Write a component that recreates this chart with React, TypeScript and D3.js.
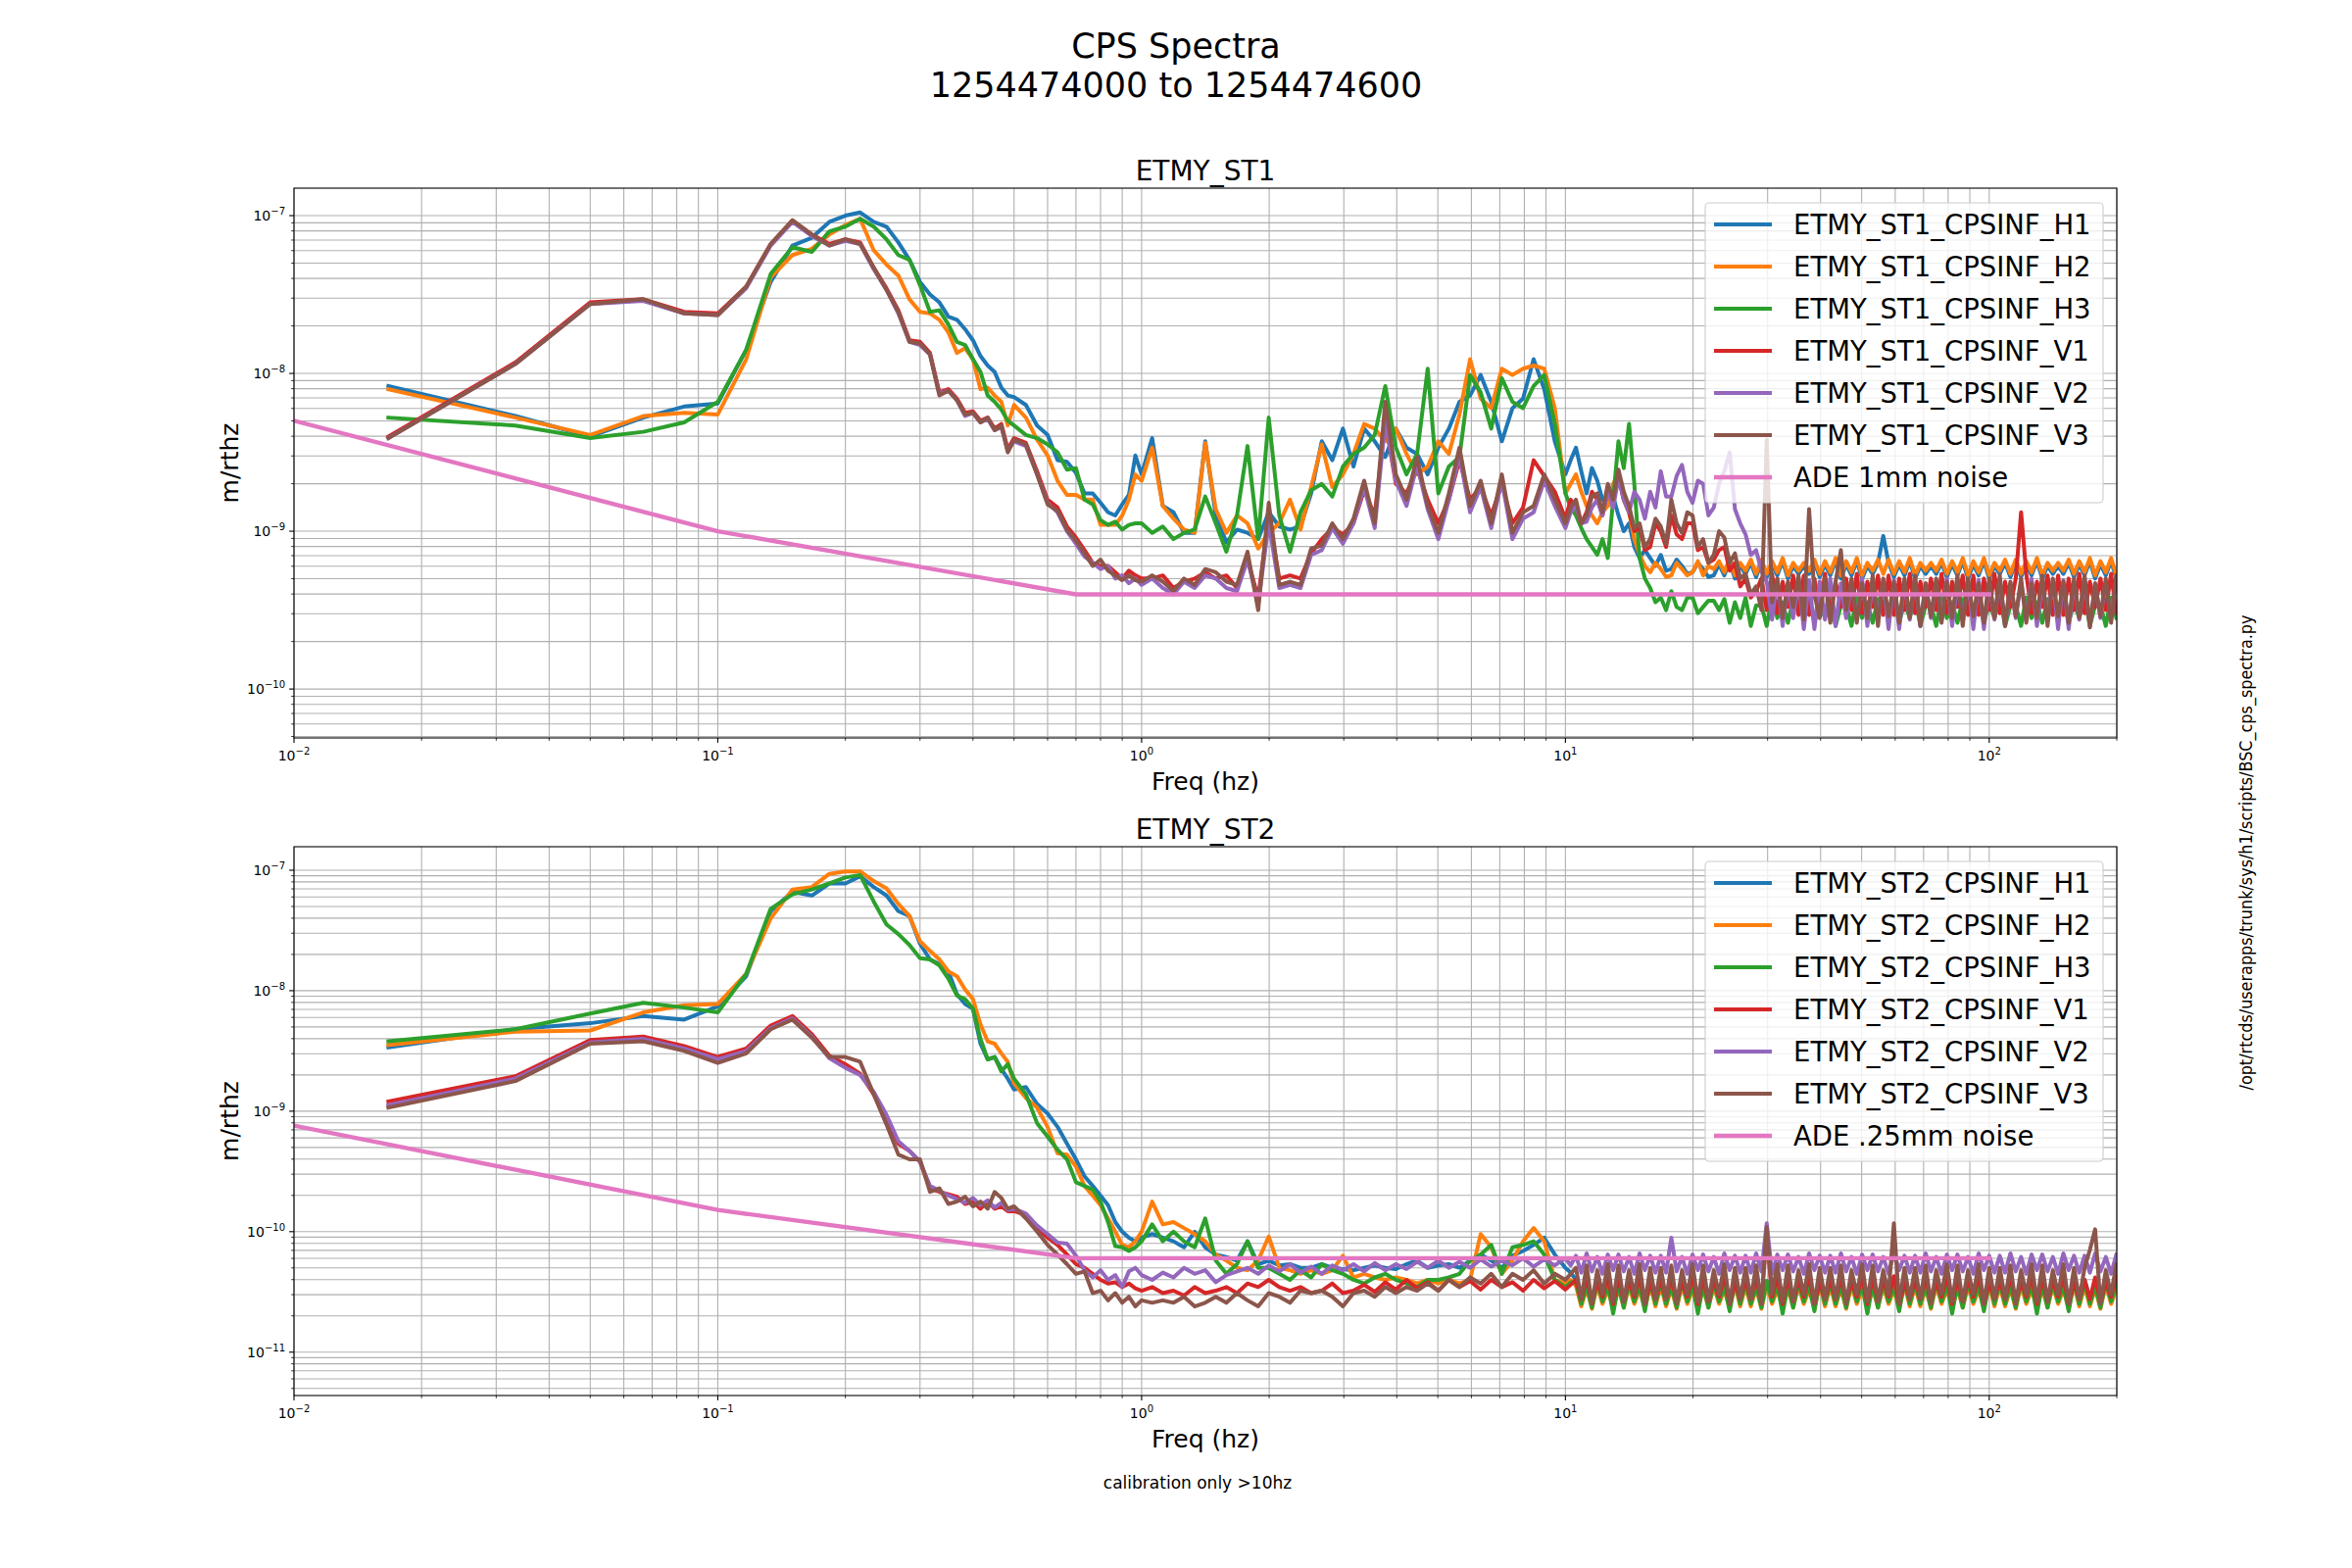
import React from 'react';
import * as d3 from 'd3';

// frequency grid (Hz): linear bins below 1 Hz, 40/decade to 10 Hz, 80/decade above
const lowFreqs = [
  0.0167, 0.0333, 0.05, 0.0667, 0.0833, 0.1, 0.1167, 0.1333, 0.15, 0.1667,
  0.1833, 0.2, 0.2167, 0.2333, 0.25, 0.2667, 0.2833, 0.3, 0.3167, 0.3333,
  0.35, 0.3667, 0.3833, 0.4, 0.4167, 0.4333, 0.45, 0.4667, 0.4833, 0.5,
  0.5333, 0.5667, 0.6, 0.6333, 0.6667, 0.7, 0.7333, 0.7667, 0.8, 0.8333, 0.8667, 0.9, 0.9333, 0.9667,
];
const midFreqs = [
  1.0, 1.059, 1.122, 1.189, 1.259, 1.334, 1.413, 1.496, 1.585, 1.679,
  1.778, 1.884, 1.995, 2.113, 2.239, 2.371, 2.512, 2.661, 2.818, 2.985,
  3.162, 3.35, 3.548, 3.758, 3.981, 4.217, 4.467, 4.732, 5.012, 5.309,
  5.623, 5.957, 6.31, 6.683, 7.079, 7.499, 7.943, 8.414, 8.913, 9.441,
];
const hfFreqs = [
  10.0, 10.29, 10.59, 10.9, 11.22, 11.55, 11.89, 12.23, 12.59, 12.96,
  13.34, 13.73, 14.13, 14.54, 14.96, 15.4, 15.85, 16.31, 16.79, 17.28,
  17.78, 18.3, 18.84, 19.39, 19.95, 20.54, 21.13, 21.75, 22.39, 23.04,
  23.71, 24.41, 25.12, 25.85, 26.61, 27.38, 28.18, 29.01, 29.85, 30.73,
  31.62, 32.55, 33.5, 34.47, 35.48, 36.52, 37.58, 38.68, 39.81, 40.97,
  42.17, 43.4, 44.67, 45.97, 47.32, 48.7, 50.12, 51.58, 53.09, 54.64,
  56.23, 57.88, 59.57, 61.31, 63.1, 64.94, 66.83, 68.79, 70.79, 72.86,
  74.99, 77.18, 79.43, 81.75, 84.14, 86.6, 89.13, 91.73, 94.41, 97.16,
  100.0, 102.9, 105.9, 109.0, 112.2, 115.5, 118.9, 122.3, 125.9, 129.6,
  133.4, 137.3, 141.3, 145.4, 149.6, 154.0, 158.5, 163.1, 167.9, 172.8,
  177.8, 183.0, 188.4, 193.9, 199.5,
];
const freqs = lowFreqs.concat(midFreqs, hfFreqs);

// spectra, stored as log10(m/rthz): low bins, 1-10 Hz, 10-200 Hz
const st1H1 = [
  -8.08, -8.27, -8.40, -8.28, -8.21, -8.19, -7.85, -7.42, -7.19, -7.14,
  -7.04, -7.00, -6.98, -7.04, -7.07, -7.17, -7.28, -7.42, -7.50, -7.55,
  -7.64, -7.66, -7.72, -7.79, -7.89, -7.95, -7.99, -8.09, -8.14, -8.15,
  -8.20, -8.33, -8.39, -8.55, -8.56, -8.63, -8.76, -8.76, -8.82, -8.88, -8.90, -8.83, -8.77, -8.52,
  -8.64, -8.41, -8.84, -8.88, -9.01, -9.01, -8.43, -8.90, -9.07, -8.99,
  -9.01, -9.05, -8.88, -8.97, -8.99, -8.97, -8.76, -8.43, -8.55, -8.35,
  -8.59, -8.35, -8.43, -8.53, -8.35, -8.47, -8.51, -8.64, -8.47, -8.35,
  -8.18, -8.14, -8.01, -8.18, -8.43, -8.22, -8.16, -7.91, -8.10, -8.43,
  -8.64, -8.55, -8.47, -8.62, -8.76, -8.60, -8.68, -8.80, -8.84, -8.78,
  -8.90, -9.00, -8.95, -9.10, -9.17, -9.12, -9.17, -9.22, -9.15, -9.25,
  -9.24, -9.18, -9.22, -9.27, -9.26, -9.20, -9.24, -9.29, -9.28,
  -9.21, -9.28, -9.19, -9.30, -9.22, -9.27, -9.20, -9.29,
  -9.20, -9.29, -9.21, -9.28, -9.19, -9.30, -9.22, -9.27,
  -9.22, -9.27, -9.20, -9.29, -9.21, -9.28, -9.19, -9.30,
  -9.21, -9.28, -9.19, -9.30, -9.22, -9.27, -9.20, -9.03,
  -9.20, -9.29, -9.21, -9.28, -9.19, -9.30, -9.22, -9.27,
  -9.22, -9.27, -9.20, -9.29, -9.21, -9.28, -9.19, -9.30,
  -9.21, -9.28, -9.19, -9.30, -9.22, -9.27, -9.20, -9.29,
  -9.20, -9.29, -9.21, -9.28, -9.19, -9.30, -9.22, -9.27,
  -9.22, -9.27, -9.20, -9.29, -9.21, -9.28, -9.19, -9.30,
  -9.21, -9.28, -9.19, -9.30,
];
const st1H2 = [
  -8.10, -8.28, -8.39, -8.27, -8.25, -8.26, -7.91, -7.39, -7.25, -7.21,
  -7.12, -7.06, -7.02, -7.22, -7.31, -7.38, -7.53, -7.61, -7.62, -7.66,
  -7.74, -7.87, -7.84, -7.91, -8.10, -8.09, -8.14, -8.18, -8.33, -8.20,
  -8.28, -8.42, -8.52, -8.68, -8.77, -8.77, -8.80, -8.80, -8.96, -8.96, -8.96, -8.90, -8.80, -8.64,
  -8.68, -8.47, -8.84, -8.92, -8.99, -9.01, -8.44, -8.86, -9.01, -8.90,
  -8.95, -9.11, -9.01, -8.95, -8.80, -8.99, -8.72, -8.45, -8.72, -8.64,
  -8.51, -8.32, -8.35, -8.43, -8.35, -8.51, -8.64, -8.59, -8.43, -8.51,
  -8.26, -7.91, -8.16, -8.22, -7.97, -8.01, -7.97, -7.95, -7.97, -8.22,
  -8.76, -8.70, -8.64, -8.75, -8.84, -8.90, -8.95, -8.88, -8.84, -8.70,
  -8.64, -8.80, -8.88, -9.05, -9.15, -9.22, -9.26, -9.20, -9.24, -9.29,
  -9.28, -9.20, -9.24, -9.28, -9.26, -9.19, -9.28, -9.22, -9.24,
  -9.19, -9.26, -9.17, -9.28, -9.20, -9.25, -9.18, -9.27,
  -9.18, -9.27, -9.19, -9.26, -9.17, -9.28, -9.20, -9.25,
  -9.20, -9.25, -9.18, -9.27, -9.19, -9.26, -9.17, -9.28,
  -9.19, -9.26, -9.17, -9.28, -9.20, -9.25, -9.18, -9.27,
  -9.18, -9.27, -9.19, -9.26, -9.17, -9.28, -9.20, -9.25,
  -9.20, -9.25, -9.18, -9.27, -9.19, -9.26, -9.17, -9.28,
  -9.19, -9.26, -9.17, -9.28, -9.20, -9.25, -9.18, -9.27,
  -9.18, -9.27, -9.19, -9.26, -9.17, -9.28, -9.20, -9.25,
  -9.20, -9.25, -9.18, -9.27, -9.19, -9.26, -9.17, -9.28,
  -9.19, -9.26, -9.17, -9.28,
];
const st1H3 = [
  -8.28, -8.33, -8.41, -8.37, -8.31, -8.18, -7.85, -7.37, -7.20, -7.23,
  -7.10, -7.07, -7.02, -7.07, -7.15, -7.25, -7.28, -7.44, -7.61, -7.60,
  -7.69, -7.80, -7.82, -7.91, -7.99, -8.14, -8.18, -8.23, -8.30, -8.33,
  -8.39, -8.41, -8.45, -8.50, -8.61, -8.60, -8.80, -8.83, -8.93, -8.96, -8.94, -8.99, -8.96, -8.95,
  -8.95, -9.01, -8.97, -9.05, -9.01, -8.99, -8.78, -8.95, -9.13, -8.90,
  -8.46, -9.05, -8.28, -8.90, -9.13, -8.88, -8.74, -8.70, -8.78, -8.59,
  -8.51, -8.47, -8.39, -8.08, -8.47, -8.64, -8.51, -7.97, -8.76, -8.59,
  -8.53, -8.01, -8.12, -8.35, -8.03, -8.18, -8.22, -8.08, -8.01, -8.32,
  -8.76, -8.85, -8.90, -8.98, -9.05, -9.10, -9.15, -9.05, -9.17, -8.80,
  -8.43, -8.60, -8.32, -8.70, -9.17, -9.30, -9.36, -9.45, -9.42, -9.50,
  -9.38, -9.48, -9.50, -9.42, -9.42, -9.52, -9.48, -9.44, -9.44,
  -9.50, -9.43, -9.58, -9.45, -9.55, -9.42, -9.60, -9.47,
  -9.47, -9.60, -9.42, -9.55, -9.45, -9.58, -9.43, -9.50,
  -9.50, -9.43, -9.58, -9.45, -9.55, -9.42, -9.60, -9.47,
  -9.47, -9.60, -9.42, -9.55, -9.45, -9.58, -9.43, -9.50,
  -9.50, -9.43, -9.58, -9.45, -9.55, -9.42, -9.60, -9.47,
  -9.47, -9.60, -9.42, -9.55, -9.45, -9.58, -9.43, -9.50,
  -9.50, -9.43, -9.58, -9.45, -9.55, -9.42, -9.60, -9.47,
  -9.47, -9.60, -9.42, -9.55, -9.45, -9.58, -9.43, -9.50,
  -9.50, -9.43, -9.58, -9.45, -9.55, -9.42, -9.60, -9.47,
  -9.47, -9.60, -9.42, -9.55,
];
const st1V1 = [
  -8.40, -7.93, -7.55, -7.53, -7.61, -7.62, -7.45, -7.18, -7.03, -7.12,
  -7.18, -7.15, -7.17, -7.33, -7.46, -7.60, -7.79, -7.80, -7.87, -8.12,
  -8.10, -8.16, -8.25, -8.24, -8.30, -8.28, -8.35, -8.32, -8.48, -8.41,
  -8.44, -8.62, -8.80, -8.85, -8.97, -9.04, -9.12, -9.20, -9.22, -9.22, -9.26, -9.30, -9.25, -9.28,
  -9.30, -9.30, -9.28, -9.36, -9.32, -9.30, -9.26, -9.30, -9.28, -9.36,
  -9.18, -9.42, -8.90, -9.30, -9.28, -9.30, -9.14, -9.05, -8.98, -9.02,
  -8.95, -8.74, -8.90, -8.30, -8.70, -8.76, -8.60, -8.80, -8.95, -8.80,
  -8.55, -8.80, -8.72, -8.90, -8.70, -8.95, -8.85, -8.55, -8.65, -8.75,
  -8.92, -8.80, -8.85, -8.95, -8.88, -8.75, -8.80, -8.90, -8.74, -8.82,
  -8.66, -8.80, -8.88, -9.00, -8.98, -9.12, -9.10, -8.95, -9.00, -9.10,
  -8.90, -9.02, -9.05, -8.95, -8.95, -9.12, -9.10, -9.20, -9.18, -9.12,
  -9.10, -9.25, -9.20, -9.35, -9.30, -9.42, -9.38,
  -9.30, -9.50, -9.27, -9.52, -9.32, -9.48, -9.28, -9.53,
  -9.28, -9.53, -9.30, -9.50, -9.27, -9.52, -9.32, -9.48,
  -9.30, -9.50, -9.27, -9.52, -9.32, -9.48, -9.28, -9.53,
  -9.28, -9.53, -9.30, -9.50, -9.27, -9.52, -9.32, -9.48,
  -9.30, -9.50, -9.27, -9.52, -9.32, -9.48, -9.28, -9.53,
  -9.28, -9.53, -9.30, -9.50, -9.27, -9.52, -9.32, -9.48,
  -9.30, -8.88, -9.27, -9.52, -9.32, -9.48, -9.28, -9.53,
  -9.28, -9.53, -9.30, -9.50, -9.27, -9.52, -9.32, -9.48,
  -9.30, -9.50, -9.27, -9.52,
];
const st1V2 = [
  -8.41, -7.94, -7.56, -7.54, -7.62, -7.63, -7.46, -7.19, -7.04, -7.13,
  -7.19, -7.16, -7.18, -7.34, -7.47, -7.62, -7.80, -7.82, -7.88, -8.13,
  -8.11, -8.17, -8.27, -8.25, -8.31, -8.29, -8.36, -8.34, -8.49, -8.43,
  -8.46, -8.64, -8.82, -8.88, -9.00, -9.08, -9.16, -9.20, -9.24, -9.22, -9.30, -9.28, -9.33, -9.30,
  -9.34, -9.30, -9.36, -9.40, -9.32, -9.36, -9.28, -9.30, -9.36, -9.38,
  -9.18, -9.46, -8.95, -9.36, -9.34, -9.36, -9.15, -9.12, -8.98, -9.08,
  -8.95, -8.72, -8.98, -8.30, -8.68, -8.84, -8.58, -8.86, -9.05, -8.80,
  -8.52, -8.88, -8.72, -8.98, -8.68, -9.05, -8.92, -8.88, -8.68, -8.84,
  -8.98, -8.88, -8.84, -8.95, -8.94, -8.85, -8.80, -8.90, -8.74, -8.85,
  -8.66, -8.80, -8.88, -8.75, -8.80, -8.92, -8.75, -8.85, -8.62, -8.78,
  -8.78, -8.65, -8.58, -8.75, -8.82, -8.68, -8.70, -8.90, -8.85, -8.70,
  -8.62, -8.50, -8.86, -8.95, -9.02, -9.15, -9.12, -9.25,
  -9.32, -9.56, -9.30, -9.60, -9.33, -9.55, -9.31, -9.62,
  -9.31, -9.62, -9.32, -9.56, -9.30, -9.60, -9.33, -9.55,
  -9.32, -9.56, -9.30, -9.60, -9.33, -9.55, -9.31, -9.62,
  -9.31, -9.62, -9.32, -9.56, -9.30, -9.60, -9.33, -9.55,
  -9.32, -9.56, -9.30, -9.60, -9.33, -9.55, -9.31, -9.62,
  -9.31, -9.62, -9.32, -9.56, -9.30, -9.60, -9.33, -9.55,
  -9.32, -9.56, -9.30, -9.60, -9.33, -9.55, -9.31, -9.62,
  -9.31, -9.62, -9.32, -9.56, -9.30, -9.60, -9.33, -9.55,
  -9.32, -9.56, -9.30,
];
const st1V3 = [
  -8.41, -7.94, -7.56, -7.53, -7.62, -7.63, -7.45, -7.18, -7.03, -7.12,
  -7.19, -7.15, -7.18, -7.33, -7.47, -7.61, -7.80, -7.81, -7.88, -8.14,
  -8.11, -8.17, -8.26, -8.25, -8.31, -8.28, -8.36, -8.33, -8.50, -8.42,
  -8.45, -8.64, -8.83, -8.87, -8.99, -9.06, -9.14, -9.22, -9.18, -9.25, -9.28, -9.31, -9.28, -9.31,
  -9.32, -9.28, -9.32, -9.38, -9.30, -9.34, -9.24, -9.26, -9.32, -9.34,
  -9.13, -9.50, -8.82, -9.34, -9.32, -9.34, -9.11, -9.09, -8.95, -9.05,
  -8.92, -8.68, -8.95, -8.18, -8.64, -8.80, -8.53, -8.84, -9.01, -8.76,
  -8.47, -8.84, -8.68, -8.95, -8.64, -9.01, -8.88, -8.84, -8.64, -8.80,
  -8.95, -8.85, -8.80, -8.95, -8.90, -8.78, -8.76, -8.88, -8.70, -8.80,
  -8.61, -8.75, -8.84, -8.98, -8.95, -9.10, -9.05, -8.92, -8.97, -9.08,
  -8.80, -8.95, -9.01, -8.88, -8.90, -9.10, -9.05, -9.20, -9.15, -9.00,
  -9.04, -9.20, -9.14, -9.30, -9.27, -9.40, -9.35, -9.50, -8.42,
  -9.45, -9.30, -9.55, -9.32, -9.48, -9.28, -9.56, -8.86,
  -9.40, -9.55, -9.30, -9.58, -9.32, -9.12, -9.50, -9.30,
  -9.58, -9.33, -9.55, -9.28, -9.60, -9.30, -9.54, -9.32,
  -9.58, -9.30, -9.55, -9.28, -9.60, -9.33, -9.54, -9.30,
  -9.58, -9.32, -9.55, -9.28, -9.60, -9.30, -9.54, -9.33,
  -9.58, -9.30, -9.55, -9.28, -9.60, -9.32, -9.54, -9.30,
  -9.58, -9.33, -9.55, -9.28, -9.60, -9.30, -9.54, -9.32,
  -9.58, -9.30, -9.55, -9.28, -9.61, -9.33, -9.54, -9.30,
  -9.58, -9.28,
];

const st2H1 = [
  -8.47, -8.32, -8.27, -8.21, -8.24, -8.13, -7.88, -7.34, -7.18, -7.21,
  -7.11, -7.11, -7.05, -7.14, -7.21, -7.34, -7.38, -7.61, -7.74, -7.78,
  -7.84, -8.03, -8.11, -8.15, -8.44, -8.57, -8.55, -8.65, -8.73, -8.82,
  -8.80, -8.94, -9.02, -9.13, -9.27, -9.40, -9.54, -9.62, -9.70, -9.78, -9.92, -10.00, -10.05, -10.08,
  -10.05, -10.02, -10.05, -10.08, -10.13, -10.00, -10.13, -10.19, -10.21, -10.24,
  -10.08, -10.27, -10.24, -10.28, -10.27, -10.30, -10.30, -10.27, -10.30, -10.31,
  -10.32, -10.30, -10.28, -10.30, -10.31, -10.27, -10.24, -10.30, -10.28, -10.27,
  -10.30, -10.24, -10.19, -10.24, -10.30, -10.20, -10.16, -10.11, -10.05, -10.19,
  -10.30, -10.34,
  -10.40, -10.55, -10.42, -10.57, -10.41, -10.58, -10.43, -10.56,
  -10.42, -10.57, -10.40, -10.56, -10.43, -10.55, -10.41, -10.58,
  -10.40, -10.55, -10.42, -10.57, -10.41, -10.58, -10.43, -10.56,
  -10.42, -10.57, -10.40, -10.56, -10.43, -10.55, -10.41, -10.58,
  -10.40, -10.55, -10.42, -10.57, -10.41, -10.58, -10.43, -10.56,
  -10.42, -10.57, -10.40, -10.56, -10.43, -10.55, -10.41, -10.58,
  -10.40, -10.55, -10.42, -10.57, -10.41, -10.58, -10.43, -10.56,
  -10.42, -10.57, -10.40, -10.56, -10.43, -10.55, -10.41, -10.58,
  -10.40, -10.55, -10.42, -10.57, -10.41, -10.58, -10.43, -10.56,
  -10.42, -10.57, -10.40, -10.56, -10.43, -10.55, -10.41, -10.58,
  -10.40, -10.55, -10.42, -10.57, -10.41, -10.58, -10.43, -10.56,
  -10.42, -10.57, -10.40, -10.56, -10.43, -10.55, -10.41, -10.58,
  -10.40, -10.55, -10.42, -10.57, -10.41, -10.58, -10.43,
];
const st2H2 = [
  -8.45, -8.34, -8.33, -8.18, -8.12, -8.11, -7.86, -7.40, -7.16, -7.14,
  -7.03, -7.01, -7.01, -7.09, -7.15, -7.28, -7.38, -7.59, -7.67, -7.74,
  -7.84, -7.88, -7.99, -8.07, -8.28, -8.42, -8.44, -8.52, -8.59, -8.77,
  -8.89, -8.97, -9.13, -9.35, -9.36, -9.46, -9.62, -9.70, -9.78, -9.89, -10.00, -10.11, -10.13, -10.08,
  -10.00, -9.75, -9.94, -9.92, -9.97, -10.02, -10.08, -10.19, -10.24, -10.30,
  -10.32, -10.24, -10.04, -10.30, -10.32, -10.35, -10.32, -10.35, -10.32, -10.20,
  -10.38, -10.35, -10.38, -10.40, -10.38, -10.40, -10.43, -10.40, -10.43, -10.40,
  -10.43, -10.40, -10.02, -10.13, -10.35, -10.24, -10.08, -9.97, -10.08, -10.40,
  -10.43, -10.40,
  -10.45, -10.62, -10.47, -10.64, -10.44, -10.60, -10.48, -10.63,
  -10.47, -10.63, -10.45, -10.60, -10.48, -10.64, -10.44, -10.62,
  -10.45, -10.62, -10.47, -10.64, -10.44, -10.60, -10.48, -10.63,
  -10.47, -10.63, -10.45, -10.60, -10.48, -10.64, -10.44, -10.62,
  -10.45, -10.62, -10.47, -10.64, -10.44, -10.60, -10.48, -10.63,
  -10.47, -10.63, -10.45, -10.60, -10.48, -10.64, -10.44, -10.62,
  -10.45, -10.62, -10.47, -10.64, -10.44, -10.60, -10.48, -10.63,
  -10.47, -10.63, -10.45, -10.60, -10.48, -10.64, -10.44, -10.62,
  -10.45, -10.62, -10.47, -10.64, -10.44, -10.60, -10.48, -10.63,
  -10.47, -10.63, -10.45, -10.60, -10.48, -10.64, -10.44, -10.62,
  -10.45, -10.62, -10.47, -10.64, -10.44, -10.60, -10.48, -10.63,
  -10.47, -10.63, -10.45, -10.60, -10.48, -10.64, -10.44, -10.62,
  -10.45, -10.62, -10.47, -10.64, -10.44, -10.60, -10.48,
];
const st2H3 = [
  -8.42, -8.32, -8.19, -8.10, -8.14, -8.18, -7.86, -7.32, -7.20, -7.16,
  -7.11, -7.06, -7.04, -7.26, -7.45, -7.53, -7.62, -7.73, -7.74, -7.79,
  -7.90, -8.04, -8.07, -8.15, -8.40, -8.57, -8.55, -8.67, -8.61, -8.73,
  -8.86, -9.10, -9.21, -9.32, -9.40, -9.59, -9.62, -9.65, -9.75, -9.92, -10.12, -10.13, -10.16, -10.13,
  -10.08, -9.94, -10.08, -10.00, -10.08, -10.13, -9.89, -10.24, -10.35, -10.27,
  -10.08, -10.30, -10.30, -10.35, -10.40, -10.32, -10.38, -10.27, -10.32, -10.35,
  -10.40, -10.43, -10.38, -10.35, -10.40, -10.43, -10.46, -10.40, -10.40, -10.38,
  -10.35, -10.24, -10.19, -10.11, -10.35, -10.13, -10.11, -10.08, -10.19, -10.40,
  -10.46, -10.42,
  -10.42, -10.60, -10.45, -10.63, -10.41, -10.58, -10.44, -10.68,
  -10.44, -10.63, -10.42, -10.58, -10.45, -10.66, -10.41, -10.60,
  -10.42, -10.60, -10.45, -10.63, -10.41, -10.58, -10.44, -10.68,
  -10.44, -10.63, -10.42, -10.58, -10.45, -10.66, -10.41, -10.60,
  -10.42, -10.60, -10.45, -10.63, -10.41, -10.58, -10.44, -10.68,
  -10.44, -10.63, -10.42, -10.58, -10.45, -10.66, -10.41, -10.60,
  -10.42, -10.60, -10.45, -10.63, -10.41, -10.58, -10.44, -10.68,
  -10.44, -10.63, -10.42, -10.58, -10.45, -10.66, -10.41, -10.60,
  -10.42, -10.60, -10.45, -10.63, -10.41, -10.58, -10.44, -10.68,
  -10.44, -10.63, -10.42, -10.58, -10.45, -10.66, -10.41, -10.60,
  -10.42, -10.60, -10.45, -10.63, -10.41, -10.58, -10.44, -10.68,
  -10.44, -10.63, -10.42, -10.58, -10.45, -10.66, -10.41, -10.60,
  -10.42, -10.60, -10.45, -10.63, -10.41, -10.58, -10.44,
];
const st2V1 = [
  -8.92, -8.71, -8.41, -8.38, -8.46, -8.55, -8.48, -8.29, -8.21, -8.36,
  -8.54, -8.61, -8.69, -8.86, -9.06, -9.27, -9.33, -9.42, -9.64, -9.67,
  -9.69, -9.71, -9.77, -9.75, -9.81, -9.75, -9.81, -9.79, -9.83, -9.83,
  -9.86, -9.97, -10.05, -10.11, -10.19, -10.27, -10.30, -10.35, -10.40, -10.43, -10.42, -10.46, -10.43, -10.47,
  -10.49, -10.46, -10.51, -10.49, -10.53, -10.46, -10.51, -10.49, -10.46, -10.51,
  -10.43, -10.46, -10.40, -10.46, -10.49, -10.46, -10.51, -10.49, -10.43, -10.51,
  -10.49, -10.44, -10.50, -10.42, -10.48, -10.40, -10.47, -10.42, -10.49, -10.40,
  -10.46, -10.41, -10.48, -10.40, -10.46, -10.42, -10.49, -10.40, -10.47, -10.41,
  -10.48, -10.44,
  -10.40, -10.56, -10.38, -10.58, -10.42, -10.54, -10.37, -10.60,
  -10.38, -10.58, -10.40, -10.54, -10.37, -10.60, -10.42, -10.56,
  -10.40, -10.56, -10.38, -10.58, -10.42, -10.54, -10.37, -10.60,
  -10.38, -10.58, -10.40, -10.54, -10.37, -10.60, -10.42, -10.56,
  -10.40, -10.56, -10.38, -10.58, -10.02, -10.54, -10.37, -10.60,
  -10.38, -10.58, -10.40, -10.54, -10.37, -10.60, -10.42, -10.56,
  -10.40, -10.56, -10.38, -10.58, -10.42, -10.54, -10.37, -10.60,
  -10.38, -10.58, -10.40, -10.54, -10.37, -10.60, -10.42, -10.56,
  -10.40, -10.56, -10.38, -10.58, -10.42, -10.54, -10.37, -10.60,
  -10.38, -10.58, -10.40, -10.54, -10.37, -10.60, -10.42, -10.56,
  -10.40, -10.56, -10.38, -10.58, -10.42, -10.54, -10.37, -10.60,
  -10.38, -10.58, -10.40, -10.54, -10.37, -10.60, -10.42, -10.56,
  -10.40, -10.56, -10.38, -10.58, -10.42, -10.54, -10.37,
];
const st2V2 = [
  -8.95, -8.73, -8.43, -8.40, -8.48, -8.57, -8.50, -8.31, -8.23, -8.38,
  -8.56, -8.64, -8.70, -8.84, -9.03, -9.25, -9.33, -9.42, -9.62, -9.66,
  -9.70, -9.73, -9.76, -9.72, -9.78, -9.74, -9.80, -9.76, -9.82, -9.81,
  -9.85, -9.95, -10.02, -10.09, -10.10, -10.20, -10.32, -10.38, -10.32, -10.40, -10.36, -10.46, -10.33, -10.30,
  -10.36, -10.40, -10.34, -10.38, -10.30, -10.35, -10.32, -10.42, -10.36, -10.33,
  -10.30, -10.35, -10.28, -10.33, -10.27, -10.34, -10.29, -10.35, -10.28, -10.32,
  -10.27, -10.33, -10.26, -10.32, -10.27, -10.31, -10.25, -10.30, -10.24, -10.30,
  -10.25, -10.30, -10.23, -10.29, -10.24, -10.28, -10.22, -10.29, -10.23, -10.28,
  -10.22, -10.28,
  -10.20, -10.34, -10.18, -10.33, -10.21, -10.35, -10.19, -10.32,
  -10.19, -10.33, -10.21, -10.35, -10.18, -10.32, -10.20, -10.34,
  -10.20, -10.34, -10.05, -10.33, -10.21, -10.35, -10.19, -10.32,
  -10.19, -10.33, -10.21, -10.35, -10.18, -10.32, -10.20, -10.34,
  -10.20, -10.34, -10.18, -10.33, -9.93, -10.35, -10.19, -10.32,
  -10.19, -10.33, -10.21, -10.35, -10.18, -10.32, -10.20, -10.34,
  -10.20, -10.34, -10.18, -10.33, -10.21, -10.35, -10.19, -10.32,
  -10.19, -10.33, -10.21, -10.35, -10.18, -10.32, -10.20, -10.34,
  -10.20, -10.34, -10.18, -10.33, -10.21, -10.35, -10.19, -10.32,
  -10.19, -10.33, -10.21, -10.35, -10.18, -10.32, -10.20, -10.34,
  -10.20, -10.34, -10.18, -10.33, -10.21, -10.35, -10.19, -10.32,
  -10.19, -10.33, -10.21, -10.35, -10.18, -10.32, -10.20, -10.34,
  -10.20, -10.34, -10.18, -10.33, -10.21, -10.35, -10.19,
];
const st2V3 = [
  -8.97, -8.75, -8.44, -8.42, -8.50, -8.60, -8.52, -8.32, -8.24, -8.39,
  -8.55, -8.55, -8.59, -8.86, -9.11, -9.36, -9.40, -9.40, -9.67, -9.64,
  -9.77, -9.75, -9.71, -9.79, -9.75, -9.81, -9.67, -9.72, -9.81, -9.79,
  -9.89, -10.00, -10.11, -10.19, -10.27, -10.35, -10.33, -10.51, -10.49, -10.57, -10.51, -10.59, -10.54, -10.62,
  -10.57, -10.59, -10.57, -10.59, -10.54, -10.62, -10.59, -10.54, -10.59, -10.51,
  -10.57, -10.62, -10.51, -10.54, -10.59, -10.49, -10.51, -10.49, -10.54, -10.62,
  -10.51, -10.49, -10.54, -10.46, -10.51, -10.46, -10.49, -10.43, -10.49, -10.40,
  -10.46, -10.38, -10.43, -10.35, -10.46, -10.35, -10.40, -10.32, -10.43, -10.35,
  -10.40, -10.35,
  -10.30, -10.56, -10.28, -10.60, -10.32, -10.52, -10.27, -10.58,
  -10.28, -10.58, -10.32, -10.52, -10.27, -10.60, -10.30, -10.56,
  -10.30, -10.56, -10.28, -10.60, -10.32, -10.52, -10.27, -10.58,
  -10.28, -10.58, -10.32, -10.52, -10.27, -10.60, -10.30, -10.56,
  -10.30, -10.56, -10.28, -10.60, -9.96, -10.52, -10.27, -10.58,
  -10.28, -10.58, -10.32, -10.52, -10.27, -10.60, -10.30, -10.56,
  -10.30, -10.56, -10.28, -10.60, -10.32, -10.52, -10.27, -10.58,
  -10.28, -10.58, -10.32, -10.52, -9.93, -10.60, -10.30, -10.56,
  -10.30, -10.56, -10.28, -10.60, -10.32, -10.52, -10.27, -10.58,
  -10.28, -10.58, -10.32, -10.52, -10.27, -10.60, -10.30, -10.56,
  -10.30, -10.56, -10.28, -10.60, -10.32, -10.52, -10.27, -10.58,
  -10.28, -10.58, -10.32, -10.52, -10.27, -10.60, -10.30, -10.56,
  -10.30, -10.15, -9.98, -10.60, -10.32, -10.52, -10.27,
];

// ADE sensor noise curves (log10)
const noiseFreqs = [0.01, 0.1, 0.7, 100];
const ade1mm = [-8.3, -9.0, -9.4, -9.4];
const ade025mm = [-9.12, -9.82, -10.22, -10.22];

const st1Names = ['ETMY_ST1_CPSINF_H1', 'ETMY_ST1_CPSINF_H2', 'ETMY_ST1_CPSINF_H3', 'ETMY_ST1_CPSINF_V1', 'ETMY_ST1_CPSINF_V2', 'ETMY_ST1_CPSINF_V3'];
const st2Names = ['ETMY_ST2_CPSINF_H1', 'ETMY_ST2_CPSINF_H2', 'ETMY_ST2_CPSINF_H3', 'ETMY_ST2_CPSINF_V1', 'ETMY_ST2_CPSINF_V2', 'ETMY_ST2_CPSINF_V3'];
const colors = ['#1f77b4', '#ff7f0e', '#2ca02c', '#d62728', '#9467bd', '#8c564b'];
const noiseColor = '#e377c2';

const FONT = "'DejaVu Sans', Verdana, sans-serif";
const AX_L = 300;
const AX_R = 2160;

const panels = [
  { title: 'ETMY_ST1', top: 192, bottom: 753, yLog: [-10.31, -6.826], series: [st1H1, st1H2, st1H3, st1V1, st1V2, st1V3], names: st1Names, noise: ade1mm, noiseName: 'ADE 1mm noise' },
  { title: 'ETMY_ST2', top: 864, bottom: 1424, yLog: [-11.36, -6.805], series: [st2H1, st2H2, st2H3, st2V1, st2V2, st2V3], names: st2Names, noise: ade025mm, noiseName: 'ADE .25mm noise' },
];

const expLabel = (v: number) => {
  const e = Math.round(Math.log10(v));
  return e < 0 ? '\u2212' + Math.abs(e) : String(e);
};
const isMajor = (v: number) => Math.abs(Math.log10(v) - Math.round(Math.log10(v))) < 1e-6;

const Panel = ({ p, idx }: { p: typeof panels[number]; idx: number }) => {
  const x = d3.scaleLog().domain([0.01, 200]).range([AX_L, AX_R]);
  const y = d3.scaleLog().domain([Math.pow(10, p.yLog[0]), Math.pow(10, p.yLog[1])]).range([p.bottom, p.top]);
  const xt = x.ticks();
  const yt = y.ticks();
  const line = d3.line<[number, number]>().x(d => x(d[0])).y(d => y(Math.pow(10, d[1])));
  const clipId = `clip-${idx}`;
  const midY = (p.top + p.bottom) / 2;
  const legTop = p.top + 15;
  const rows = p.names.concat([p.noiseName]);
  const rowColors = colors.concat([noiseColor]);

  return (
    <g>
      <defs>
        <clipPath id={clipId}>
          <rect x={AX_L} y={p.top} width={AX_R - AX_L} height={p.bottom - p.top} />
        </clipPath>
      </defs>
      {xt.map((v, i) => (
        <line key={'gx' + i} x1={x(v)} x2={x(v)} y1={p.top} y2={p.bottom} stroke="#b0b0b0" strokeWidth={1.1} />
      ))}
      {yt.map((v, i) => (
        <line key={'gy' + i} x1={AX_L} x2={AX_R} y1={y(v)} y2={y(v)} stroke="#b0b0b0" strokeWidth={1.1} />
      ))}
      <g clipPath={`url(#${clipId})`} fill="none" strokeLinejoin="round" strokeLinecap="square">
        {p.series.map((s, si) => {
          const n = Math.min(s.length, freqs.length);
          const pts: [number, number][] = [];
          for (let i = 0; i < n; i++) pts.push([freqs[i], s[i]]);
          return <path key={'s' + si} d={line(pts) || ''} stroke={colors[si]} strokeWidth={4} />;
        })}
        <path d={line(noiseFreqs.map((f, i) => [f, p.noise[i]] as [number, number])) || ''} stroke={noiseColor} strokeWidth={4.4} />
      </g>
      <rect x={AX_L} y={p.top} width={AX_R - AX_L} height={p.bottom - p.top} fill="none" stroke="#000" strokeWidth={1.1} />
      {xt.map((v, i) => (
        <line key={'tx' + i} x1={x(v)} x2={x(v)} y1={p.bottom} y2={p.bottom + (isMajor(v) ? 4.9 : 2.8)} stroke="#000" strokeWidth={isMajor(v) ? 1.1 : 0.8} />
      ))}
      {xt.filter(isMajor).map((v, i) => (
        <text key={'lx' + i} x={x(v)} y={p.bottom + 23} textAnchor="middle" fontSize={14}>
          10<tspan dy={-6} fontSize={10}>{expLabel(v)}</tspan>
        </text>
      ))}
      {yt.map((v, i) => (
        <line key={'ty' + i} x1={AX_L} x2={AX_L - (isMajor(v) ? 4.9 : 2.8)} y1={y(v)} y2={y(v)} stroke="#000" strokeWidth={isMajor(v) ? 1.1 : 0.8} />
      ))}
      {yt.filter(isMajor).map((v, i) => (
        <text key={'ly' + i} x={AX_L - 9} y={y(v) + 5} textAnchor="end" fontSize={14}>
          10<tspan dy={-6} fontSize={10}>{expLabel(v)}</tspan>
        </text>
      ))}
      <text x={(AX_L + AX_R) / 2} y={p.top - 8} textAnchor="middle" fontSize={28}>{p.title}</text>
      <text x={(AX_L + AX_R) / 2} y={p.bottom + 53} textAnchor="middle" fontSize={25}>Freq (hz)</text>
      <text transform={`translate(234,${midY}) rotate(-90)`} textAnchor="middle" dominantBaseline="central" fontSize={25}>m/rthz</text>
      <rect x={1740} y={legTop} width={406} height={306} rx={4} fill="#fff" fillOpacity={0.8} stroke="#cccccc" strokeWidth={1.1} />
      {rows.map((name, j) => {
        const cy = legTop + 22 + 43 * j;
        return (
          <g key={'leg' + j}>
            <line x1={1749} x2={1808} y1={cy} y2={cy} stroke={rowColors[j]} strokeWidth={j === 6 ? 4.4 : 4} />
            <text x={1830} y={cy + 10} fontSize={27.5}>{name}</text>
          </g>
        );
      })}
    </g>
  );
};

const App = () => (
  <svg
    width={2400}
    height={1600}
    viewBox="0 0 2400 1600"
    style={{ position: 'absolute', left: 0, top: 0, background: '#fff' }}
    fontFamily={FONT}
  >
    <rect x={0} y={0} width={2400} height={1600} fill="#fff" />
    <text x={1200} y={59} textAnchor="middle" fontSize={35}>CPS Spectra</text>
    <text x={1200} y={99} textAnchor="middle" fontSize={35}>1254474000 to 1254474600</text>
    {panels.map((p, i) => <Panel key={i} p={p} idx={i} />)}
    <text x={1222} y={1519} textAnchor="middle" fontSize={17}>calibration only &gt;10hz</text>
    <text transform="translate(2292,870) rotate(-90)" textAnchor="middle" dominantBaseline="central" fontSize={17} textLength={485} lengthAdjust="spacingAndGlyphs">
      /opt/rtcds/userapps/trunk/sys/h1/scripts/BSC_cps_spectra.py
    </text>
  </svg>
);

export default App;
